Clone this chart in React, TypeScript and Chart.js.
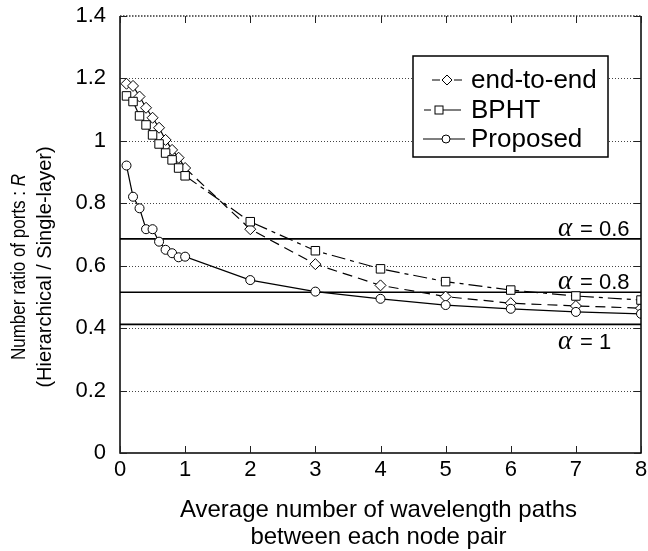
import React, { useEffect, useRef } from "react";
import { Chart, registerables } from "chart.js";

Chart.register(...registerables);

// ---------- data ----------
const xValues = [0.1, 0.2, 0.3, 0.4, 0.5, 0.6, 0.7, 0.8, 0.9, 1, 2, 3, 4, 5, 6, 7, 8];
const endToEnd = [1.183, 1.176, 1.142, 1.106, 1.074, 1.042, 1.003, 0.971, 0.946, 0.913, 0.717, 0.605, 0.537, 0.501, 0.48, 0.471, 0.464];
const bpht = [1.144, 1.126, 1.08, 1.051, 1.019, 0.99, 0.961, 0.939, 0.913, 0.888, 0.741, 0.648, 0.59, 0.549, 0.522, 0.503, 0.49];
const proposed = [0.921, 0.821, 0.784, 0.717, 0.717, 0.677, 0.651, 0.64, 0.627, 0.629, 0.554, 0.517, 0.494, 0.474, 0.462, 0.452, 0.446];
const seriesNames = ["end-to-end", "BPHT", "Proposed"];
const alphaLevels = [0.686, 0.515, 0.412];
const alphaTexts = ["0.6", "0.8", "1"];
const xMin = 0;
const xMax = 8;
const yMin = 0;
const yMax = 1.4;
const xStep = 1;
const yStep = 0.2;
const xTitle = ["Average number of wavelength paths", "between each node pair"];
const yTitle1 = "Number ratio of ports : ";
const yTitleVar = "R";
const yTitle2 = "(Hierarchical / Single-layer)";

const SANS = "'Liberation Sans', Arial, Helvetica, sans-serif";
const SERIF = "'Liberation Serif', 'Times New Roman', serif";

const toPoints = (ys: number[]) => ys.map((y, i) => ({ x: xValues[i], y }));

const decorPlugin = {
  id: "decor",
  beforeDatasetsDraw(chart: any) {
    const { ctx, chartArea, scales } = chart;
    const y = scales.y;
    ctx.save();
    ctx.strokeStyle = "#444";
    ctx.lineWidth = 1;
    ctx.setLineDash([1, 2]);
    for (let v = yMin + yStep; v < yMax - 1e-6; v += yStep) {
      const py = Math.round(y.getPixelForValue(v)) + 0.5;
      ctx.beginPath();
      ctx.moveTo(chartArea.left, py);
      ctx.lineTo(chartArea.right, py);
      ctx.stroke();
    }
    ctx.restore();
  },
  afterDatasetsDraw(chart: any) {
    const { ctx, chartArea, scales } = chart;
    const xs = scales.x;
    const ys = scales.y;
    const L = chartArea.left, R = chartArea.right, T = chartArea.top, B = chartArea.bottom;
    ctx.save();
    // top border (dotted)
    ctx.strokeStyle = "#333";
    ctx.lineWidth = 1.5;
    ctx.setLineDash([1.5, 1.5]);
    ctx.beginPath();
    ctx.moveTo(L, T);
    ctx.lineTo(R, T);
    ctx.stroke();
    ctx.setLineDash([]);
    // frame
    ctx.strokeStyle = "#000";
    ctx.lineWidth = 1.5;
    ctx.beginPath();
    ctx.moveTo(L, T);
    ctx.lineTo(L, B);
    ctx.lineTo(R, B);
    ctx.lineTo(R, T);
    ctx.stroke();
    // inward ticks
    ctx.lineWidth = 1;
    ctx.strokeStyle = "#222";
    ctx.beginPath();
    for (let v = xMin; v <= xMax + 1e-6; v += xStep) {
      const px = Math.round(xs.getPixelForValue(v)) + 0.5;
      ctx.moveTo(px, B);
      ctx.lineTo(px, B - 7);
      ctx.moveTo(px, T);
      ctx.lineTo(px, T + 7);
    }
    for (let v = yMin; v <= yMax + 1e-6; v += yStep) {
      const py = Math.round(ys.getPixelForValue(v)) + 0.5;
      ctx.moveTo(L, py);
      ctx.lineTo(L + 7, py);
      ctx.moveTo(R, py);
      ctx.lineTo(R - 7, py);
    }
    ctx.stroke();

    // alpha labels
    ctx.fillStyle = "#000";
    ctx.textBaseline = "alphabetic";
    alphaLevels.forEach((lv, i) => {
      const py = ys.getPixelForValue(lv);
      const base = i === 2 ? py + 25 : py - 3;
      ctx.font = `italic 27px ${SERIF}`;
      ctx.textAlign = "left";
      ctx.fillText("\u03b1", 558, base);
      ctx.font = `22px ${SANS}`;
      ctx.fillText("= " + alphaTexts[i], 580, base);
    });

    // legend
    const bx = 413, by = 56, bw = 195, bh = 101;
    ctx.fillStyle = "#fff";
    ctx.fillRect(bx, by, bw, bh);
    ctx.strokeStyle = "#000";
    ctx.lineWidth = 1.5;
    ctx.strokeRect(bx, by, bw, bh);
    const rows = [80, 110, 139];
    ctx.lineWidth = 1.2;
    // end-to-end sample
    ctx.beginPath();
    ctx.moveTo(432, rows[0]); ctx.lineTo(440, rows[0]);
    ctx.moveTo(454, rows[0]); ctx.lineTo(462, rows[0]);
    ctx.stroke();
    ctx.beginPath();
    ctx.moveTo(447, rows[0] - 5); ctx.lineTo(452, rows[0]); ctx.lineTo(447, rows[0] + 5); ctx.lineTo(442, rows[0]); ctx.closePath();
    ctx.fillStyle = "#fff"; ctx.fill(); ctx.lineWidth = 1; ctx.stroke();
    // BPHT sample
    ctx.lineWidth = 1.2;
    ctx.beginPath();
    ctx.moveTo(424, rows[1]); ctx.lineTo(431, rows[1]);
    ctx.moveTo(443, rows[1]); ctx.lineTo(461, rows[1]);
    ctx.stroke();
    ctx.lineWidth = 1;
    ctx.fillRect(435, rows[1] - 4, 8, 8);
    ctx.strokeRect(435, rows[1] - 4, 8, 8);
    // Proposed sample
    ctx.lineWidth = 1.2;
    ctx.beginPath();
    ctx.moveTo(423, rows[2]); ctx.lineTo(465, rows[2]);
    ctx.stroke();
    ctx.beginPath();
    ctx.arc(446, rows[2], 4, 0, Math.PI * 2);
    ctx.fill(); ctx.lineWidth = 1; ctx.stroke();
    ctx.fillStyle = "#000";
    ctx.font = `26px ${SANS}`;
    ctx.textAlign = "left";
    ctx.textBaseline = "middle";
    seriesNames.forEach((n, i) => ctx.fillText(n, 471, rows[i] + 1));

    // x title
    ctx.font = `24px ${SANS}`;
    ctx.textAlign = "center";
    ctx.textBaseline = "alphabetic";
    const cx = (L + R) / 2 - 2;
    ctx.fillText(xTitle[0], cx, 517);
    ctx.fillText(xTitle[1], cx, 544);

    // y title
    ctx.save();
    ctx.translate(19, 267);
    ctx.rotate(-Math.PI / 2);
    ctx.scale(0.85, 1);
    ctx.textBaseline = "middle";
    ctx.textAlign = "left";
    ctx.font = `20px ${SANS}`;
    const w1 = ctx.measureText(yTitle1).width;
    ctx.font = `italic 20px ${SANS}`;
    const w2 = ctx.measureText(yTitleVar).width;
    const start = -(w1 + w2) / 2;
    ctx.font = `20px ${SANS}`;
    ctx.fillText(yTitle1, start, 0);
    ctx.font = `italic 20px ${SANS}`;
    ctx.fillText(yTitleVar, start + w1, 0);
    ctx.restore();
    ctx.save();
    ctx.translate(45, 267);
    ctx.rotate(-Math.PI / 2);
    ctx.textBaseline = "middle";
    ctx.textAlign = "center";
    ctx.font = `20px ${SANS}`;
    ctx.fillText(yTitle2, 0, 0);
    ctx.restore();

    ctx.restore();
  },
};

export default function App() {
  const ref = useRef<HTMLCanvasElement | null>(null);
  useEffect(() => {
    document.body.style.margin = "0";
    const canvas = ref.current;
    if (!canvas) return;
    const common = {
      borderColor: "#000",
      borderWidth: 1.2,
      pointBackgroundColor: "#fff",
      pointBorderColor: "#000",
      pointBorderWidth: 1,
      fill: false,
      tension: 0,
    };
    const alphaSets = alphaLevels.map((lv) => ({
      data: [
        { x: xMin, y: lv },
        { x: xMax, y: lv },
      ],
      borderColor: "#000",
      borderWidth: 1.6,
      pointRadius: 0,
      fill: false,
      order: 5,
    }));
    const chart = new Chart(canvas, {
      type: "line",
      data: {
        datasets: [
          ...alphaSets,
          {
            ...common,
            label: seriesNames[0],
            data: toPoints(endToEnd),
            pointStyle: "rectRot",
            pointRadius: 5.5,
            segment: { borderDash: (c: any) => (c.p1.parsed.x <= 1 ? [] : [10, 6]) },
            order: 3,
          },
          {
            ...common,
            label: seriesNames[1],
            data: toPoints(bpht),
            pointStyle: "rect",
            pointRadius: 6,
            segment: { borderDash: (c: any) => (c.p1.parsed.x <= 1 ? [] : [14, 5, 4, 5]) },
            order: 2,
          },
          {
            ...common,
            label: seriesNames[2],
            data: toPoints(proposed),
            pointStyle: "circle",
            pointRadius: 4.5,
            order: 1,
          },
        ] as any,
      },
      options: {
        responsive: false,
        animation: false,
        devicePixelRatio: 1,
        layout: { padding: { top: 16, right: 2, left: 0, bottom: 0 } },
        plugins: { legend: { display: false }, tooltip: { enabled: false } },
        scales: {
          x: {
            type: "linear",
            min: xMin,
            max: xMax,
            ticks: {
              stepSize: xStep,
              color: "#000",
              font: { family: SANS, size: 22 },
              padding: 4,
              maxRotation: 0,
            },
            grid: { display: false, drawTicks: false },
            border: { display: false },
            afterFit: (s: any) => {
              s.height = 98;
              s.paddingLeft = 0;
              s.paddingRight = 0;
            },
          },
          y: {
            type: "linear",
            min: yMin,
            max: yMax,
            ticks: {
              stepSize: yStep,
              color: "#000",
              font: { family: SANS, size: 22 },
              padding: 14,
              callback: (v: any) => String(Number(Number(v).toFixed(1))),
            },
            grid: { display: false, drawTicks: false },
            border: { display: false },
            afterFit: (s: any) => {
              s.width = 120;
              s.paddingTop = 0;
              s.paddingBottom = 0;
            },
          },
        },
      } as any,
      plugins: [decorPlugin],
    });
    return () => chart.destroy();
  }, []);
  return (
    <div style={{ width: 648, height: 551, background: "#fff" }}>
      <canvas ref={ref} width={648} height={551} style={{ display: "block" }} />
    </div>
  );
}
